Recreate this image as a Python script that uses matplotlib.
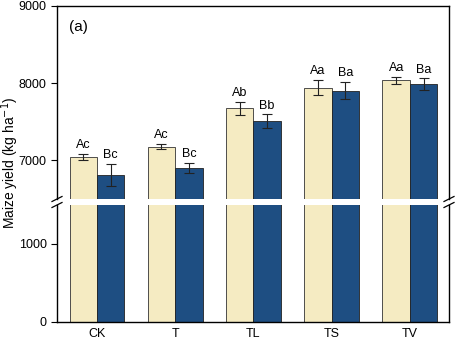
import matplotlib
matplotlib.use("Agg")
import matplotlib.pyplot as plt
import numpy as np

plt.rcParams['font.family'] = ['Liberation Sans', 'DejaVu Sans']

categories = ["CK", "T", "TL", "TS", "TV"]
yield_a = [7046, 7180, 7673, 7943, 8037]
err_a = [40, 30, 86, 97, 47]
yield_b = [6811, 6901, 7506, 7905, 7986]
err_b = [143, 68, 90, 111, 77]
labels_a = ["Ac", "Ac", "Ab", "Aa", "Aa"]
labels_b = ["Bc", "Bc", "Bb", "Ba", "Ba"]

col_a = "#F5EBC2"
col_b = "#1E4E82"

W, H = 457, 340
fig = plt.figure(figsize=(W/100, H/100), dpi=100)
left, right = 57/W, 449/W
ax_top = fig.add_axes([left, 1-199/H, right-left, (199-6)/H])
ax_bot = fig.add_axes([left, 1-322/H, right-left, (322-205)/H])

x = np.arange(len(categories))
bw = 0.35
for ax in (ax_top, ax_bot):
    ax.bar(x - bw/2, yield_a, bw, color=col_a, edgecolor="#333333", linewidth=0.6)
    ax.bar(x + bw/2, yield_b, bw, color=col_b, edgecolor="#222222", linewidth=0.6)
    ax.set_xlim(-0.51, 4.5)
    ax.tick_params(axis='y', direction='out', length=4, width=0.8, labelsize=9)
    for s in ax.spines.values():
        s.set_linewidth(1.0)

ax_top.errorbar(x - bw/2, yield_a, yerr=err_a, fmt='none', ecolor='#222222', elinewidth=0.8, capsize=3.5, capthick=0.8)
ax_top.errorbar(x + bw/2, yield_b, yerr=err_b, fmt='none', ecolor='#222222', elinewidth=0.8, capsize=3.5, capthick=0.8)
for i in range(len(categories)):
    ax_top.text(x[i] - bw/2, yield_a[i] + err_a[i] + 35, labels_a[i], ha='center', va='bottom', fontsize=9)
    ax_top.text(x[i] + bw/2, yield_b[i] + err_b[i] + 35, labels_b[i], ha='center', va='bottom', fontsize=9)

ax_top.set_ylim(6500, 9000)
ax_top.set_yticks([7000, 8000, 9000])
ax_top.spines['bottom'].set_visible(False)
ax_top.set_xticks([])
ax_top.text(0.03, 0.93, "(a)", transform=ax_top.transAxes, fontsize=11, va='top', ha='left')

ax_bot.set_ylim(0, 1500)
ax_bot.set_yticks([0, 1000])
ax_bot.spines['top'].set_visible(False)
ax_bot.set_xticks(x)
ax_bot.set_xticklabels(categories, fontsize=9)
ax_bot.tick_params(axis='x', length=0, pad=4)

fig.text(10/W, 1-163/H, "Maize yield (kg ha$^{-1}$)", rotation=90, ha='center', va='center', fontsize=10)

# break marks
for xc in (57, 449):
    for yc in (199, 205):
        fig.add_artist(plt.Line2D([(xc-5)/W, (xc+5)/W], [1-(yc+2.5)/H, 1-(yc-2.5)/H],
                                  color='black', linewidth=0.9, transform=fig.transFigure))

fig.savefig("out.png", dpi=100)
